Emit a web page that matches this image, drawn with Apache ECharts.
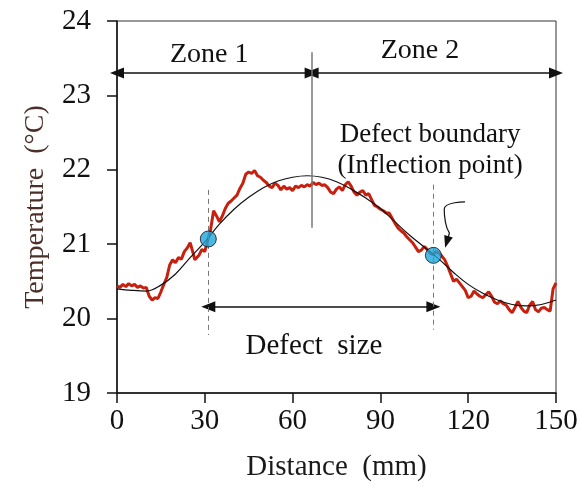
<!DOCTYPE html>
<html><head><meta charset="utf-8">
<script src="https://cdn.jsdelivr.net/npm/echarts@6/dist/echarts.min.js"></script>
<style>html,body{margin:0;padding:0;background:#fff}#c{width:586px;height:491px}</style>
</head><body><div id="c"></div>
<script>
// Measured (noisy) temperature profile
const measX = [0,1,2,3,4,5,6,7,8,9,10,11,12,13,14,15,16,17,18,19,20,21,22,23,24,25,26,26.6,28,29,30,31,32,33,34,35,36,37,38,39,40,41,42,43,44,45,46,47,48,49,50,51,52,53,54,55,56,57,58,59,60,61,62,63,64,65,66,67,68,69,70,71,72,73,74,75,76,77,78,79,80,81,82,83,84,85,86,87,88,89,90,91,92,93,94,95,96,97,98,99,100,101,102,103,104,105,106,107,108,109,110,111,112,113,114,115,116,117,118,119,120,121,122,123,124,125,126,127,128,129,130,131,132,133,134,135,136,137,138,139,140,141,142,143,144,145,146,147,148,149,150];
const measY = [20.44,20.42,20.46,20.43,20.47,20.44,20.46,20.42,20.44,20.41,20.42,20.3,20.25,20.28,20.27,20.36,20.46,20.55,20.72,20.79,20.75,20.82,20.8,20.9,20.95,21.02,20.88,20.79,20.85,20.93,20.9,21.05,21.2,21.45,21.38,21.3,21.38,21.48,21.55,21.58,21.62,21.66,21.75,21.82,21.94,21.97,21.95,21.99,21.92,21.9,21.86,21.83,21.78,21.76,21.82,21.79,21.73,21.78,21.74,21.76,21.72,21.78,21.76,21.79,21.77,21.8,21.78,21.83,21.8,21.82,21.79,21.8,21.76,21.7,21.68,21.74,21.77,21.72,21.8,21.84,21.78,21.7,21.66,21.7,21.72,21.66,21.68,21.6,21.52,21.5,21.47,21.45,21.42,21.42,21.35,21.28,21.22,21.18,21.15,21.1,21.06,21.02,20.96,20.9,20.92,20.97,20.93,20.88,20.86,20.9,20.88,20.84,20.79,20.7,20.6,20.5,20.53,20.48,20.43,20.38,20.28,20.3,20.37,20.33,20.3,20.28,20.32,20.36,20.3,20.22,20.2,20.24,20.2,20.18,20.12,20.08,20.15,20.23,20.15,20.1,20.08,20.18,20.23,20.12,20.09,20.14,20.15,20.12,20.1,20.4,20.48];
// Fitted smooth curve
const fitX = [0,5,10,15,20,25,30,35,40,45,50,55,60,65,70,75,80,85,90,95,100,105,110,115,120,125,130,135,140,145,150];
const fitY = [20.40,20.38,20.37,20.45,20.6,20.82,21.03,21.27,21.47,21.63,21.76,21.85,21.9,21.92,21.9,21.84,21.74,21.62,21.48,21.3,21.12,20.96,20.8,20.62,20.46,20.34,20.25,20.19,20.17,20.19,20.25];
// Inflection points (defect boundaries)
const inflX = [31.2, 108.1];
const inflY = [21.07, 20.85];
// Annotation values
const zoneSplit = 66.5;
const zoneArrowY = 23.3;
const defectArrowY = 20.16;
const xTicks = [0,30,60,90,120,150];
const yTicks = [19,20,21,22,23,24];
const curlX = [118.9, 111.8, 112.2, 113.6, 112.7];
const curlY = [21.57, 21.47, 21.3, 21.15, 21.03];

const FONT = 'Liberation Serif';
const chart = echarts.init(document.getElementById('c'), null, {renderer:'canvas'});
const zip = (a,b)=>a.map((v,i)=>[v,b[i]]);
const txt = (x,y,s,size)=>({coord:[x,y], symbol:'rect', symbolSize:1, itemStyle:{color:'rgba(0,0,0,0)'},
  label:{show:true, formatter:s, position:'inside', fontFamily:FONT, fontSize:size||28, color:'#111'}});
const arrowLine = (x1,y1,x2,y2,sym)=>[{coord:[x1,y1], symbol:sym[0]},{coord:[x2,y2], symbol:sym[1]}];

chart.setOption({
  animation:false,
  grid:{left:117, right:30, top:21, bottom:98, show:true, borderColor:'#333', borderWidth:1},
  xAxis:{type:'value', min:xTicks[0], max:xTicks[xTicks.length-1], interval:30,
    name:'Distance  (mm)', nameLocation:'middle', nameGap:60,
    nameTextStyle:{fontFamily:FONT, fontSize:29, color:'#1a1a1a'},
    axisLine:{onZero:false, lineStyle:{color:'#111', width:1.5}},
    axisTick:{inside:false, length:10, lineStyle:{color:'#111', width:1.5}},
    axisLabel:{margin:14, fontFamily:FONT, fontSize:29, color:'#111'},
    splitLine:{show:false}},
  yAxis:{type:'value', min:yTicks[0], max:yTicks[yTicks.length-1], interval:1,
    name:'Temperature  (°C)', nameLocation:'middle', nameGap:67, nameRotate:90,
    nameTextStyle:{fontFamily:FONT, fontSize:28, color:'#4a3028'},
    axisLine:{onZero:false, lineStyle:{color:'#111', width:1.5}},
    axisTick:{inside:false, length:10, lineStyle:{color:'#111', width:1.5}},
    axisLabel:{margin:26, fontFamily:FONT, fontSize:29, color:'#111'},
    splitLine:{show:false}},
  series:[
    {type:'line', data:zip(measX,measY), showSymbol:false, symbol:'none',
     lineStyle:{color:'#c8200e', width:3}, z:3},
    {type:'line', data:zip(fitX,fitY), showSymbol:false, symbol:'none', smooth:0.4,
     lineStyle:{color:'#111', width:1.2}, z:4,
     markLine:{silent:true, animation:false, label:{show:false}, symbolSize:[11,14],
       data:[
         arrowLine(0,zoneArrowY,zoneSplit,zoneArrowY,['triangle','triangle']),
         arrowLine(zoneSplit,zoneArrowY,150,zoneArrowY,['triangle','triangle']),
         arrowLine(inflX[0],defectArrowY,inflX[1],defectArrowY,['triangle','triangle'])
       ].map(d=>{d[0].lineStyle={color:'#111',width:1.5,type:'solid'};return d;})
         .concat([
           [{coord:[zoneSplit,23.58],symbol:'none',lineStyle:{color:'#777',width:1.5,type:'solid'}},{coord:[zoneSplit,21.22],symbol:'none'}],
           [{coord:[inflX[0],21.73],symbol:'none',lineStyle:{color:'#777',width:1,type:[5,4]}},{coord:[inflX[0],19.78],symbol:'none'}],
           [{coord:[inflX[1],21.8],symbol:'none',lineStyle:{color:'#777',width:1,type:[5,4]}},{coord:[inflX[1],19.85],symbol:'none'}],
           [{coord:[curlX[3],curlY[3]],symbol:'none',lineStyle:{color:'#111',width:1.2,type:'solid'}},{coord:[curlX[4],curlY[4]],symbol:'triangle',symbolSize:[9,12]}]
         ])},
     markPoint:{silent:true, animation:false, data:[
       txt(31.5,23.55,'Zone 1'), txt(103.5,23.6,'Zone 2'),
       txt(107,22.47,'Defect boundary',27), txt(107,22.05,'(Inflection point)',27),
       txt(67.3,19.62,'Defect  size',29)
     ]}},
    {type:'line', data:zip(curlX.slice(0,4),curlY.slice(0,4)), smooth:0.6, showSymbol:false, symbol:'none',
     lineStyle:{color:'#111', width:1.2}, z:5},
    {type:'scatter', data:zip(inflX,inflY), symbolSize:16,
     itemStyle:{color:'#1ea6dc', borderColor:'#111', borderWidth:1}, z:6}
  ]
});
</script></body></html>
